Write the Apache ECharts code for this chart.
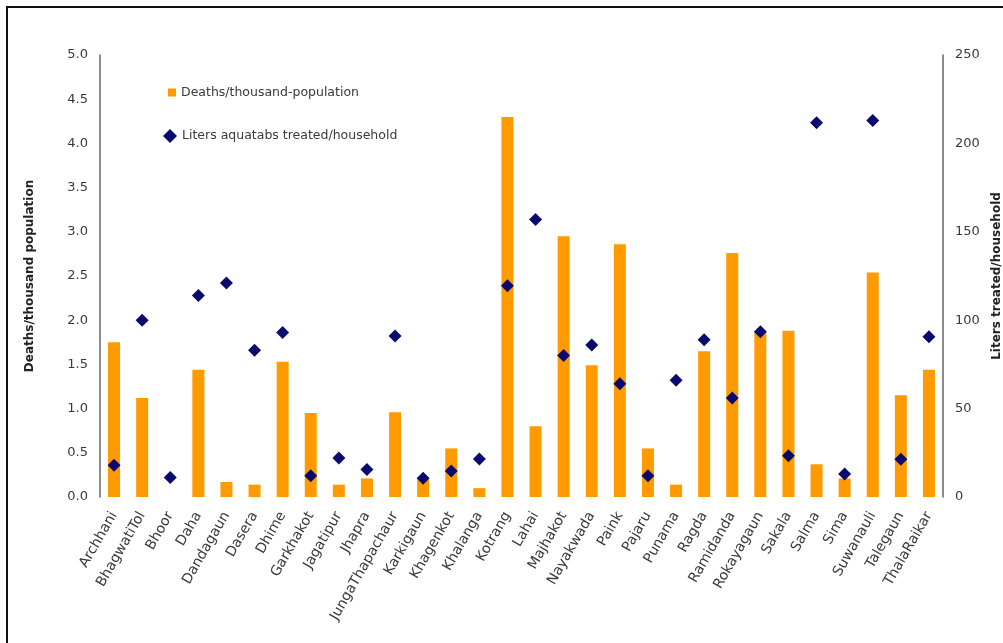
<!DOCTYPE html>
<html><head><meta charset="utf-8">
<script src="https://cdn.jsdelivr.net/npm/echarts@6/dist/echarts.min.js"></script>
<style>html,body{margin:0;padding:0;background:#fff}#c{width:1003px;height:643px}</style>
</head><body><div id="c"></div>
<script>
const categories = ["Archhani","BhagwatiTol","Bhoor","Daha","Dandagaun","Dasera","Dhime","Garkhakot","Jagatipur","Jhapra","JungaThapachaur","Karkigaun","Khagenkot","Khalanga","Kotrang","Lahai","Majhakot","Nayakwada","Paink","Pajaru","Punama","Ragda","Ramidanda","Rokayagaun","Sakala","Salma","Sima","Suwanauli","Talegaun","ThalaRaikar"];
const deaths = [1.75,1.12,0,1.44,0.17,0.14,1.53,0.95,0.14,0.21,0.96,0.2,0.55,0.10,4.30,0.80,2.95,1.49,2.86,0.55,0.14,1.65,2.76,1.86,1.88,0.37,0.21,2.54,1.15,1.44];
const liters = [18,100,11,114,121,83,93,12,22,15.6,91,10.6,14.7,21.5,119.5,157,80,86,64,12,66,89,56,93.5,23.4,211.7,13,213,21.3,90.7];
const leftTicks = {min:0,max:5,interval:0.5};
const rightTicks = {min:0,max:250,interval:50};

const chart = echarts.init(document.getElementById('c'));
const txt = '#3a3a3a';
const font = 'DejaVu Sans, sans-serif';
chart.setOption({
  animation:false,
  textStyle:{fontFamily:font},
  graphic:[{type:'rect',shape:{x:7,y:7,width:1010,height:650},style:{fill:'none',stroke:'#111',lineWidth:2}}],
  legend:[
    {orient:'vertical', left:163, top:81, itemWidth:8, itemHeight:8,
     textStyle:{color:txt,fontSize:12.5,fontFamily:font},
     data:[{name:'Deaths/thousand-population',icon:'rect'}]},
    {orient:'vertical', left:158, top:124, itemWidth:14, itemHeight:14, itemGap:3,
     textStyle:{color:txt,fontSize:12.5,fontFamily:font},
     data:[{name:'Liters aquatabs treated/household',icon:'diamond'}]}
  ],
  grid:{left:100,right:60,top:55,bottom:146,outerBoundsMode:'none',containLabel:false},
  xAxis:{type:'category',data:categories,
    axisLine:{show:false},axisTick:{show:false},
    axisLabel:{interval:0,rotate:60,color:txt,fontSize:14,fontFamily:font,margin:16}},
  yAxis:[
    {type:'value',min:leftTicks.min,max:leftTicks.max,interval:leftTicks.interval,
     name:'Deaths/thousand population',nameLocation:'middle',nameRotate:90,nameGap:64,
     nameTextStyle:{fontWeight:'bold',fontSize:12,color:'#222',fontFamily:font},
     axisLine:{show:true,lineStyle:{color:'#666',width:1.5}},axisTick:{show:false},splitLine:{show:false},
     axisLabel:{color:txt,fontSize:13,margin:12,formatter:v=>v.toFixed(1)}},
    {type:'value',min:rightTicks.min,max:rightTicks.max,interval:rightTicks.interval,position:'right',
     name:'Liters treated/household',nameLocation:'middle',nameRotate:90,nameGap:48,
     nameTextStyle:{fontWeight:'bold',fontSize:12,color:'#222',fontFamily:font},
     axisLine:{show:true,lineStyle:{color:'#666',width:1.5}},axisTick:{show:false},splitLine:{show:false},
     axisLabel:{color:txt,fontSize:13,margin:12}}
  ],
  series:[
    {name:'Deaths/thousand-population',type:'bar',data:deaths,yAxisIndex:0,barWidth:12,
     itemStyle:{color:'#FF9A00'}},
    {name:'Liters aquatabs treated/household',type:'scatter',data:liters,yAxisIndex:1,
     symbol:'diamond',symbolSize:13,itemStyle:{color:'#0A0A6E',opacity:1},z:5}
  ]
});
</script></body></html>
